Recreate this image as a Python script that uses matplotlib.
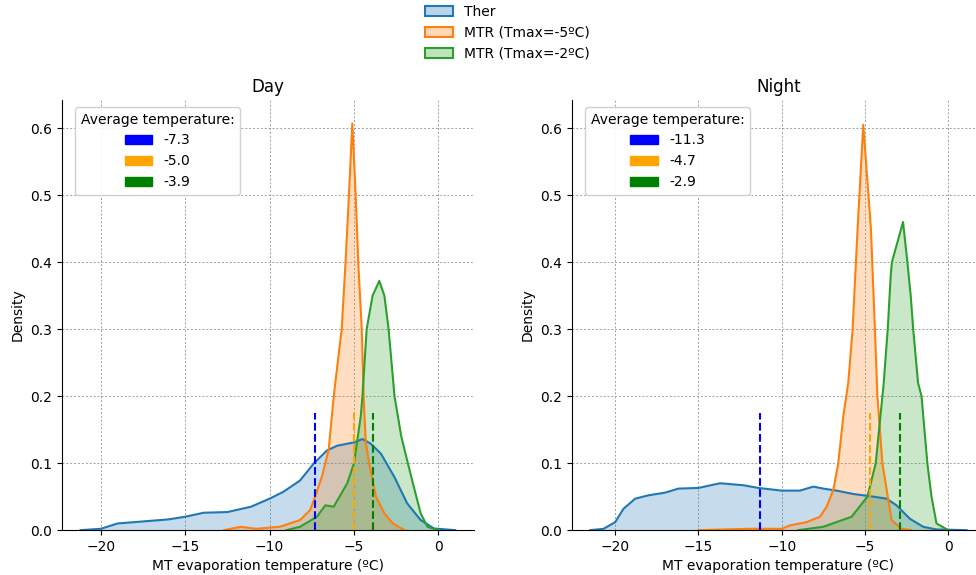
import matplotlib.pyplot as plt
from matplotlib.colors import to_rgb
from matplotlib.patches import Patch

# density curves
day_ther_x = [-21.2, -20, -19, -18, -16, -15, -13.9, -12.5, -11.1, -10, -9.2, -8.2, -7.4, -6.6, -6, -5, -4.5, -4, -3.4, -2.6, -1.85, -1.05, -0.26, 1.0]
day_ther_y = [0, 0.002, 0.01, 0.012, 0.016, 0.02, 0.026, 0.027, 0.035, 0.047, 0.057, 0.074, 0.099, 0.119, 0.126, 0.131, 0.136, 0.129, 0.114, 0.079, 0.04, 0.015, 0.0025, 0]

day_mtr5_x = [-12.7, -11.7, -10.8, -9.4, -8.8, -8.2, -7.6, -7.3, -6.9, -6.5, -6.2, -5.73, -5.5, -5.3, -5.1, -4.9, -4.75, -4.54, -4.43, -4.3, -4.1, -3.7, -3.2, -2.7, -2.0]
day_mtr5_y = [0, 0.005, 0.002, 0.005, 0.01, 0.015, 0.03, 0.05, 0.08, 0.12, 0.2, 0.3, 0.4, 0.5, 0.607, 0.5, 0.4, 0.3, 0.2, 0.13, 0.1, 0.05, 0.025, 0.01, 0]

day_mtr2_x = [-9, -8.2, -7.2, -6.7, -6.2, -5.4, -5.0, -4.6, -4.5, -4.25, -3.9, -3.5, -3.2, -2.95, -2.6, -2.2, -1.85, -1.45, -1.05, -0.65, 0]
day_mtr2_y = [0, 0.005, 0.02, 0.037, 0.035, 0.07, 0.1, 0.17, 0.2, 0.3, 0.35, 0.372, 0.35, 0.3, 0.2, 0.14, 0.104, 0.064, 0.025, 0.005, 0]

night_ther_x = [-21.5, -20.7, -20, -19.5, -18.8, -18, -17, -16.2, -15, -13.7, -12.3, -11.4, -10, -8.9, -8.1, -7.5, -6.7, -5.7, -4.5, -3.7, -3.1, -2.3, -1.5, -0.7, 1.1]
night_ther_y = [0, 0.002, 0.012, 0.032, 0.047, 0.052, 0.056, 0.062, 0.063, 0.07, 0.067, 0.063, 0.059, 0.059, 0.065, 0.062, 0.059, 0.054, 0.05, 0.047, 0.037, 0.017, 0.005, 0.001, 0]

night_mtr5_x = [-15, -12, -10, -9.5, -8.5, -7.7, -7.3, -6.9, -6.6, -6.3, -6.0, -5.74, -5.44, -5.1, -4.64, -4.4, -4.25, -3.95, -3.4, -2.8, -2.2]
night_mtr5_y = [0, 0.002, 0.002, 0.007, 0.012, 0.02, 0.035, 0.06, 0.1, 0.17, 0.22, 0.3, 0.45, 0.605, 0.45, 0.3, 0.2, 0.1, 0.015, 0.002, 0]

night_mtr2_x = [-9, -7.5, -5.8, -4.85, -4.35, -3.95, -3.87, -3.63, -3.45, -3.38, -2.71, -2.45, -2.25, -2.1, -1.81, -1.6, -1.25, -1.0, -0.7, 0]
night_mtr2_y = [0, 0.005, 0.02, 0.05, 0.1, 0.2, 0.22, 0.3, 0.38, 0.4, 0.46, 0.4, 0.35, 0.3, 0.22, 0.2, 0.1, 0.05, 0.01, 0]

series_names = ['Ther', 'MTR (Tmax=-5ºC)', 'MTR (Tmax=-2ºC)']
series_colors = ['tab:blue', 'tab:orange', 'tab:green']
mean_colors = ['blue', 'orange', 'green']
day_means = [-7.3, -5.0, -3.9]
night_means = [-11.3, -4.7, -2.9]

fig = plt.figure(figsize=(9.76, 5.75), dpi=100)
ax1 = fig.add_axes([0.0635, 0.078, 0.422, 0.748])
ax2 = fig.add_axes([0.586, 0.078, 0.423, 0.748])

panels = [
    (ax1, 'Day', [(day_ther_x, day_ther_y), (day_mtr5_x, day_mtr5_y), (day_mtr2_x, day_mtr2_y)], day_means, (-22.3, 2.1)),
    (ax2, 'Night', [(night_ther_x, night_ther_y), (night_mtr5_x, night_mtr5_y), (night_mtr2_x, night_mtr2_y)], night_means, (-22.6, 2.2)),
]

for ax, title, curves, means, xlim in panels:
    for (xs, ys), c in zip(curves, series_colors):
        ax.fill_between(xs, ys, color=c, alpha=0.25, lw=0)
        ax.plot(xs, ys, color=c, lw=1.5)
    for m, c in zip(means, mean_colors):
        ax.plot([m, m], [0, 0.175], color=c, ls='--', lw=1.5)
    ax.set_xlim(*xlim)
    ax.set_ylim(0, 0.642)
    ax.set_xticks([-20, -15, -10, -5, 0])
    ax.set_yticks([0.0, 0.1, 0.2, 0.3, 0.4, 0.5, 0.6])
    ax.grid(True, color='#a0a0a0', ls=(0, (2, 2)), lw=0.7)
    ax.set_axisbelow(True)
    ax.spines['top'].set_visible(False)
    ax.spines['right'].set_visible(False)
    ax.set_title(title, fontsize=12)
    ax.set_xlabel('MT evaporation temperature (ºC)', fontsize=10)
    ax.set_ylabel('Density', fontsize=10)
    ax.tick_params(labelsize=10)
    handles = [Patch(color=c) for c in mean_colors]
    ax.legend(handles, ['%.1f' % m for m in means], title='Average temperature:',
              loc='upper left', bbox_to_anchor=(0.015, 1.0),
              fontsize=10, title_fontsize=10, framealpha=0.9)

main_handles = [Patch(facecolor=(*to_rgb(c), 0.3), edgecolor=c, lw=1.5) for c in series_colors]
fig.legend(main_handles, series_names, loc='upper center', bbox_to_anchor=(0.52, 1.013),
           fontsize=10, frameon=False)

plt.savefig('out.png', dpi=100)
